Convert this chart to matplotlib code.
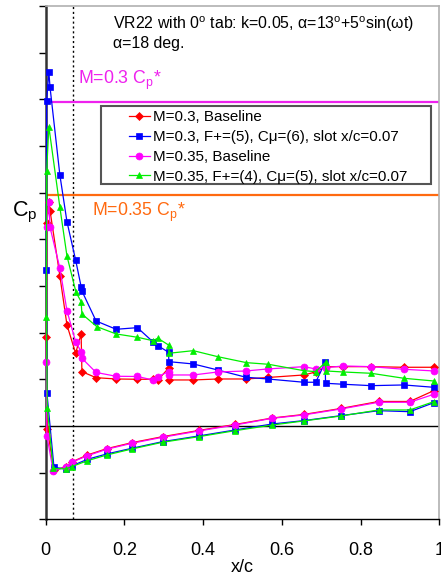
import matplotlib
matplotlib.use("Agg")
import matplotlib.pyplot as plt
from matplotlib.patches import Rectangle

plt.rcParams['font.family'] = ['Liberation Sans', 'DejaVu Sans']
plt.rcParams['mathtext.fontset'] = 'custom'
plt.rcParams['mathtext.rm'] = 'Liberation Sans'
plt.rcParams['mathtext.it'] = 'Liberation Sans:italic'

# ---- M=0.3, Baseline ----
m03_base_xu = [0.0015, 0.0025, 0.008, 0.011, 0.036, 0.054, 0.076, 0.090, 0.092, 0.128,
               0.179, 0.233, 0.272, 0.285, 0.312, 0.313, 0.375, 0.437, 0.509, 0.564,
               0.656, 0.686, 0.711, 0.756, 0.827, 0.910, 0.986]
m03_base_cpu = [-1.914, -4.344, -4.807, -4.614, -3.215, -2.165, -1.558, -1.972, -1.164, -1.035,
                -1.007, -1.001, -1.001, -0.986, -1.237, -0.986, -0.986, -1.007, -1.007, -1.039,
                -1.093, -1.157, -1.271, -1.271, -1.271, -1.258, -1.258]
m03_base_xl = [0.004, 0.021, 0.051, 0.066, 0.106, 0.155, 0.219, 0.297, 0.389, 0.481,
               0.576, 0.655, 0.750, 0.846, 0.925, 0.986]
m03_base_cpl = [0.064, 0.943, 0.879, 0.772, 0.622, 0.486, 0.358, 0.229, 0.096, -0.032,
                -0.171, -0.246, -0.375, -0.525, -0.525, -0.757]

# ---- M=0.3, forced ----
m03_ctrl_xu = [0.0015, 0.0025, 0.008, 0.011, 0.036, 0.054, 0.076, 0.090, 0.092, 0.128,
               0.179, 0.233, 0.272, 0.285, 0.312, 0.313, 0.375, 0.437, 0.509, 0.564,
               0.656, 0.686, 0.710, 0.711, 0.756, 0.827, 0.910, 0.986]
m03_ctrl_cpu = [-3.337, -6.972, -7.593, -7.259, -5.379, -4.378, -3.558, -2.985, -2.893, -2.250,
                -2.072, -2.107, -1.807, -1.721, -1.580, -1.378, -1.329, -1.200, -1.044, -1.007,
                -0.937, -0.937, -1.365, -0.915, -0.894, -0.864, -0.879, -0.829]
m03_ctrl_xl = [0.003, 0.021, 0.051, 0.066, 0.106, 0.155, 0.219, 0.297, 0.389, 0.481,
               0.576, 0.655, 0.750, 0.846, 0.925, 0.986]
m03_ctrl_cpl = [-0.714, 0.885, 0.922, 0.857, 0.714, 0.600, 0.478, 0.336, 0.214, 0.086,
                -0.043, -0.114, -0.221, -0.328, -0.306, -0.499]

# ---- M=0.35, Baseline ----
m035_base_xu = [0.0015, 0.0025, 0.008, 0.011, 0.036, 0.054, 0.076, 0.090, 0.092, 0.128,
                0.179, 0.233, 0.272, 0.285, 0.312, 0.313, 0.375, 0.437, 0.509, 0.564,
                0.656, 0.686, 0.711, 0.756, 0.827, 0.910, 0.986]
m035_base_cpu = [-1.378, -4.259, -4.807, -4.259, -3.380, -2.471, -1.807, -1.592, -1.451, -1.147,
                 -1.065, -1.061, -0.986, -1.057, -1.164, -1.093, -1.093, -1.157, -1.179, -1.222,
                 -1.271, -1.222, -1.249, -1.286, -1.271, -1.215, -1.179]
m035_base_xl = [0.003, 0.019, 0.051, 0.066, 0.106, 0.155, 0.219, 0.297, 0.389, 0.481,
                0.576, 0.655, 0.750, 0.846, 0.925, 0.986]
m035_base_cpl = [0.208, 0.964, 0.885, 0.778, 0.637, 0.499, 0.371, 0.242, 0.107, -0.021,
                 -0.165, -0.236, -0.364, -0.508, -0.508, -0.679]

# ---- M=0.35, forced ----
m035_ctrl_xu = [0.0015, 0.0025, 0.008, 0.036, 0.054, 0.077, 0.090, 0.092, 0.130, 0.179,
                0.233, 0.272, 0.285, 0.312, 0.313, 0.375, 0.437, 0.510, 0.566, 0.656,
                0.686, 0.711, 0.712, 0.756, 0.827, 0.910, 0.986]
m035_ctrl_cpu = [-2.336, -5.472, -6.414, -4.687, -3.643, -2.865, -2.664, -2.400, -2.128, -1.972,
                 -1.901, -1.828, -1.880, -1.736, -1.558, -1.614, -1.485, -1.357, -1.322, -1.185,
                 -1.164, -1.365, -1.179, -1.157, -1.129, -1.022, -0.964]
m035_ctrl_xl = [0.004, 0.019, 0.051, 0.066, 0.106, 0.155, 0.219, 0.297, 0.389, 0.481,
                0.576, 0.655, 0.750, 0.846, 0.925, 0.986]
m035_ctrl_cpl = [-0.392, 0.907, 0.922, 0.872, 0.744, 0.622, 0.493, 0.349, 0.229, 0.101,
                 -0.021, -0.107, -0.214, -0.343, -0.343, -0.521]

labels = ["M=0.3, Baseline",
          "M=0.3, F+=(5), C\u03bc=(6), slot x/c=0.07",
          "M=0.35, Baseline",
          "M=0.35, F+=(4), C\u03bc=(5), slot x/c=0.07"]

# critical pressure coefficients
cp_star_m03 = -6.95
cp_star_m035 = -4.96
slot_xc = 0.07

x_ticks = [0, 0.2, 0.4, 0.6, 0.8, 1]
x_tick_labels = ["0", "0.2", "0.4", "0.6", "0.8", "1"]
y_ticks = list(range(-9, 3))

W, H = 441, 576
fig = plt.figure(figsize=(W / 100, H / 100), dpi=100)
ax = fig.add_axes([45.7 / W, 1 - 519.3 / H, (439.3 - 45.7) / W, (519.3 - 6) / H])
ax.set_xlim(0, 1)
ax.set_ylim(2, -9)

series = [
    (m03_base_xu, m03_base_cpu, m03_base_xl, m03_base_cpl, '#ff0000', 'D', 3.6),
    (m03_ctrl_xu, m03_ctrl_cpu, m03_ctrl_xl, m03_ctrl_cpl, '#0000ff', 's', 5.0),
    (m035_base_xu, m035_base_cpu, m035_base_xl, m035_base_cpl, '#ff00ff', 'o', 5.0),
    (m035_ctrl_xu, m035_ctrl_cpu, m035_ctrl_xl, m035_ctrl_cpl, '#00ee00', '^', 5.0),
]
handles = []
for (xu, cpu, xl, cpl, col, mk, ms), lab in zip(series, labels):
    xs = list(reversed(xu)) + list(xl)
    ys = list(reversed(cpu)) + list(cpl)
    h, = ax.plot(xs, ys, color=col, marker=mk, markersize=ms, lw=0.9,
                 markeredgewidth=0.5, markeredgecolor=col, label=lab, clip_on=False, zorder=3)
    handles.append(h)

ax.axhline(0, color='black', lw=1.0, zorder=2)
ax.axvline(slot_xc, color='black', lw=1.0, ls=(0, (1.5, 2)), zorder=2)
ax.axhline(cp_star_m03, color='#ee22ee', lw=1.6, zorder=2)
ax.axhline(cp_star_m035, color='#ff6a10', lw=1.6, zorder=2)

ax.text(0.082, -7.415, r"M=0.3 C$_\mathrm{p}$*", color='#ee22ee', fontsize=12.8,
        ha='left', va='center')
ax.text(0.117, -4.586, r"M=0.35 C$_\mathrm{p}$*", color='#ff6a10', fontsize=12.8,
        ha='left', va='center')
ax.text(0.171, -8.615,
        r"VR22 with 0$^\mathrm{o}$ tab: k=0.05, α=13$^\mathrm{o}$+5$^\mathrm{o}$sin(ωt)",
        fontsize=11.4, ha='left', va='center')
ax.text(0.171, -8.187, "α=18 deg.", fontsize=11.4, ha='left', va='center')

# legend with a wide framed box
box = Rectangle((0.1405, 0.6526), 0.978 - 0.1405, 0.805 - 0.6526, transform=ax.transAxes,
                facecolor='white', edgecolor='#555555', lw=1.5, zorder=5)
ax.add_patch(box)
leg = ax.legend(handles=handles, loc='upper left', bbox_to_anchor=(0.205, 0.801),
                frameon=False, fontsize=10.9, handlelength=1.4, handletextpad=0.2,
                labelspacing=0.38, borderpad=0.15, borderaxespad=0, numpoints=1)
leg.set_zorder(6)

ax.set_xticks(x_ticks)
ax.set_xticklabels(x_tick_labels, fontsize=13)
ax.set_yticks(y_ticks)
ax.set_yticklabels([])
ax.tick_params(axis='x', direction='out', length=4, width=1, pad=12)
ax.tick_params(axis='y', direction='out', length=5, width=1)
ax.set_xlabel("x/c", fontsize=13, labelpad=0)

ax.spines['left'].set_linewidth(1.8)
ax.spines['left'].set_color('#333333')
ax.spines['bottom'].set_linewidth(1.0)
ax.spines['bottom'].set_color('black')
for s in ('top', 'right'):
    ax.spines[s].set_color('#b0b0b0')
    ax.spines[s].set_linewidth(1.2)

fig.text(25 / W, 1 - 212 / H, r"C$_\mathrm{p}$", fontsize=15.5, ha='center', va='center')

fig.savefig("out.png", dpi=100)
